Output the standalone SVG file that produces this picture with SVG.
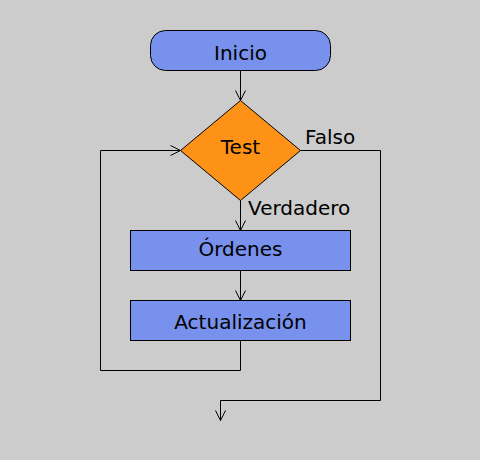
<svg xmlns="http://www.w3.org/2000/svg" width="480" height="460" viewBox="0 0 480 460">
<style>
.box{fill:#7891ec;stroke:#000;stroke-width:1}
.dec{fill:#fe9217;stroke:#000;stroke-width:1}
.t{font-family:"DejaVu Sans",sans-serif;font-size:20px;fill:#000}
.c{text-anchor:middle}
.e{fill:none;stroke:#000;stroke-width:1}
</style>
<defs>
<marker id="a" markerUnits="userSpaceOnUse" markerWidth="14" markerHeight="14" viewBox="-12 -7 14 14" refX="0" refY="0" orient="auto">
<path d="M-10,-5 L0,0 L-10,5" fill="none" stroke="#000" stroke-width="1"/>
</marker>
</defs>
<rect width="480" height="460" fill="#cccccc"/>
<g id="connectors">
<path class="e" d="M240.5,70.5 V100.5" marker-end="url(#a)"/>
<path class="e" d="M240.5,200 V230.5" marker-end="url(#a)"/>
<path class="e" d="M240.5,270.5 V300.5" marker-end="url(#a)"/>
<path class="e" d="M240.5,340.5 V370.5 H100.5 V150.5 H180.5" marker-end="url(#a)"/>
<path class="e" d="M300.5,150.5 H380.5 V400.5 H220.5 V420.5" marker-end="url(#a)"/>
<text class="t" x="305" y="144">Falso</text>
<text class="t" x="248" y="215">Verdadero</text>
</g>
<g id="inicio">
<rect class="box" x="150.5" y="30.5" width="180" height="40" rx="15" ry="15"/>
<text class="t c" x="240.5" y="60">Inicio</text>
</g>
<g id="test">
<path class="dec" d="M240.5,100.5 L300.5,150.5 L240.5,200.5 L180.5,150.5 Z"/>
<text class="t c" x="240.5" y="154">Test</text>
</g>
<g id="ordenes">
<rect class="box" x="130.5" y="230.5" width="220" height="40"/>
<text class="t c" x="240.5" y="256">Órdenes</text>
</g>
<g id="actualizacion">
<rect class="box" x="130.5" y="300.5" width="220" height="40"/>
<text class="t c" x="240.5" y="329">Actualización</text>
</g>
</svg>
